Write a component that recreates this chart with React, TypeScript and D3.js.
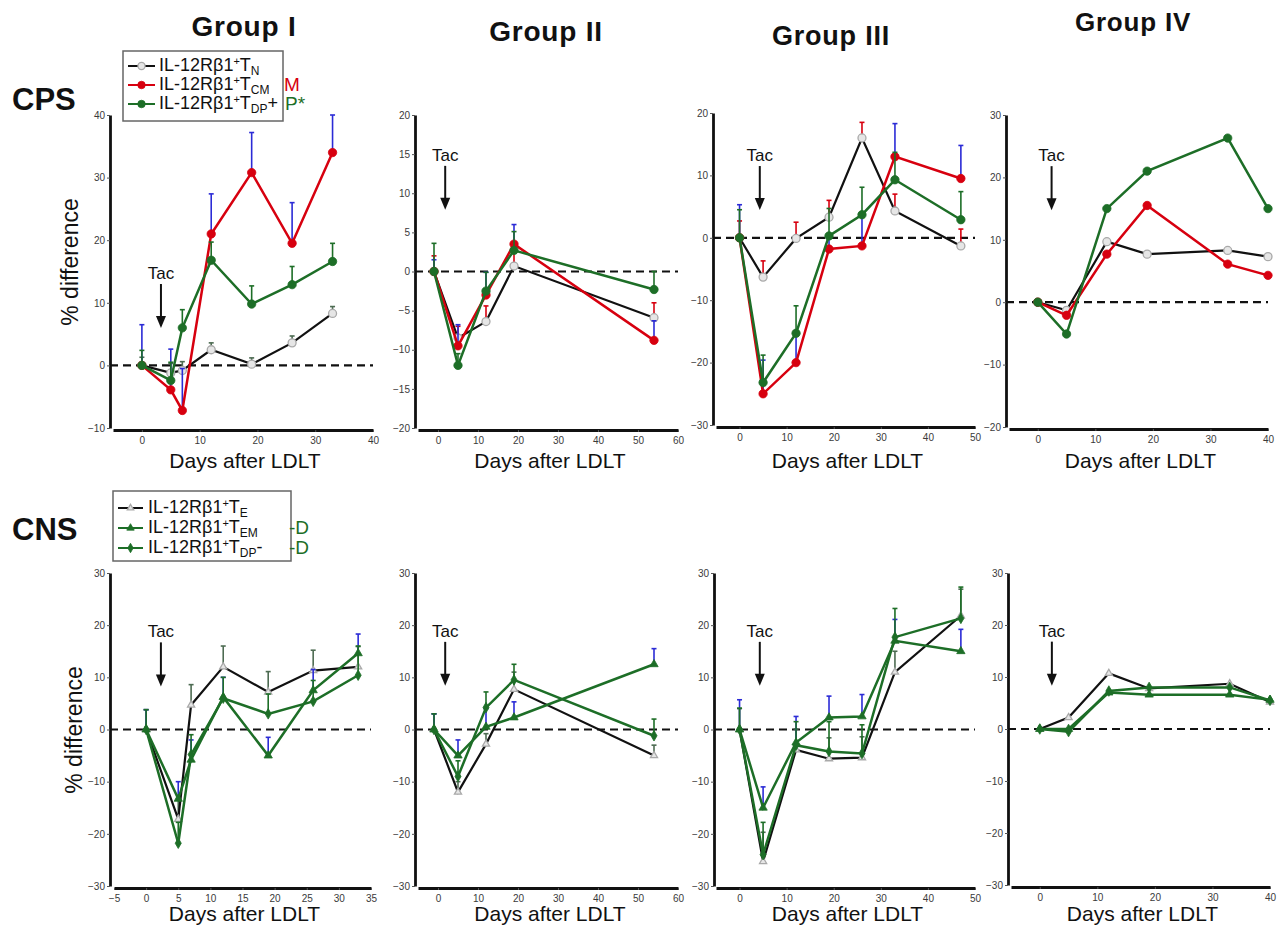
import { useEffect, useRef } from "react";
import * as d3 from "d3";

// ---- CPS, Group I ----
const cps1Days = [0, 5, 7, 12, 19, 26, 33];
const cps1TN = [0, -1.2, -0.8, 2.5, 0.2, 3.6, 8.3];
const cps1TNErr = [1.3, 1.5, 1.4, 1.1, 1.0, 1.1, 1.1];
const cps1TCM = [0, -3.9, -7.2, 21, 30.8, 19.5, 34];
const cps1TCMErr = [6.5, 6.5, 6.7, 6.4, 6.4, 6.5, 6];
const cps1TDP = [0, -2.4, 6, 16.8, 9.8, 12.9, 16.6];
const cps1TDPErr = [2.4, 2.9, 2.9, 2.9, 2.9, 2.9, 2.9];

// ---- CPS, Group II ----
const cps2Days = [-1, 5, 12, 19, 54];
const cps2TN = [0, -8.5, -6.4, 0.7, -5.9];
const cps2TNErr = [2.0, 1.5, 2.0, 2.0, 1.9];
const cps2TCM = [0, -9.5, -3, 3.5, -8.8];
const cps2TCMErr = [1.5, 2.7, 2.9, 2.5, 2.5];
const cps2TDP = [0, -12, -2.5, 2.7, -2.3];
const cps2TDPErr = [3.6, 1.5, 2.4, 2.4, 2.3];

// ---- CPS, Group III ----
const cps3Days = [0, 5, 12, 19, 26, 33, 47];
const cps3TN = [0, -6.3, -0.1, 3.3, 16, 4.3, -1.3];
const cps3TNErr = [2.7, 2.6, 2.6, 2.7, 2.5, 2.7, 2.7];
const cps3TCM = [0, -25, -20, -1.8, -1.3, 13, 9.5];
const cps3TCMErr = [5.3, 5.4, 5, 2.3, 5, 5.3, 5.3];
const cps3TDP = [0, -23.2, -15.3, 0.3, 3.7, 9.3, 2.9];
const cps3TDPErr = [4.5, 4.4, 4.4, 4.4, 4.4, 4.4, 4.5];

// ---- CPS, Group IV ----
const cps4Days = [0, 5, 12, 19, 33, 40];
const cps4TN = [0, -1.3, 9.7, 7.7, 8.3, 7.3];
const cps4TCM = [0, -2.1, 7.7, 15.5, 6.1, 4.3];
const cps4TDP = [0, -5.1, 15, 21, 26.3, 15];

// ---- CNS, Group I ----
const cns1Days = [0, 5, 7, 12, 19, 26, 33];
const cns1TE = [0, -17.2, 4.7, 12, 7.2, 11.3, 12];
const cns1TEErr = [3.8, 3.8, 3.9, 4, 3.9, 3.9, 3.9];
const cns1TEM = [0, -13.3, -5.8, 6.2, -5, 7.5, 14.6];
const cns1TEMErr = [3.8, 3.3, 3.8, 3.8, 3.5, 4, 3.7];
const cns1TDP = [0, -21.8, -4.8, 6, 3, 5.4, 10.4];
const cns1TDPErr = [3.8, 4, 3.8, 4, 3.8, 4, 5.6];

// ---- CNS, Group II ----
const cns2Days = [-1, 5, 12, 19, 54];
const cns2TE = [0, -12, -2.8, 7.7, -5];
const cns2TEErr = [3, 2, 2, 3.3, 2];
const cns2TEM = [0, -5, 0.5, 2.3, 12.5];
const cns2TEMErr = [3, 3, 3.5, 3, 3];
const cns2TDP = [0, -9, 4.2, 9.5, -1.2];
const cns2TDPErr = [3, 3, 3, 3, 3.2];

// ---- CNS, Group III ----
const cns3Days = [0, 5, 12, 19, 26, 33, 47];
const cns3TE = [0, -25.3, -3.9, -5.6, -5.4, 11, 21.8];
const cns3TEErr = [4, 5.6, 4, 4, 4, 4, 5.1];
const cns3TEM = [0, -15, -2.5, 2.3, 2.5, 17, 15];
const cns3TEMErr = [5.7, 4, 5, 4.1, 4.2, 4.1, 4.2];
const cns3TDP = [0, -24, -3, -4.2, -4.6, 17.7, 21.3];
const cns3TDPErr = [4.1, 6.2, 4.5, 5.7, 5.5, 5.5, 6];

// ---- CNS, Group IV ----
const cns4Days = [0, 5, 12, 19, 33, 40];
const cns4TE = [0, 2.2, 10.7, 7.8, 8.7, 5.2];
const cns4TEM = [0, 0, 7, 6.6, 6.6, 5.6];
const cns4TDP = [0, -0.5, 7.3, 8, 8, 5.5];

const groupTitles = ["Group I", "Group II", "Group III", "Group IV"];
const xTitle = "Days after LDLT";
const yTitle = "% difference";

const BLACK = "#111";
const RED = "#d7000f";
const GREEN = "#1d6e27";
const BLUE = "#2b2bd6";
const DKERR = "#4d6b52";
const FONT = "'Liberation Sans', Arial, Helvetica, sans-serif";

type Series = {
  values: number[];
  err?: number[];
  color: string;
  errColor?: string;
  marker: "open" | "dot" | "openTri" | "tri" | "diamond";
};

const topSeries = (tn, tnE, tnEC, tcm, tcmE, tdp, tdpE): Series[] => [
  { values: tn, err: tnE, color: BLACK, errColor: tnEC, marker: "open" },
  { values: tcm, err: tcmE, color: RED, errColor: BLUE, marker: "dot" },
  { values: tdp, err: tdpE, color: GREEN, errColor: GREEN, marker: "dot" },
];
const botSeries = (te, teE, tem, temE, tdp, tdpE): Series[] => [
  { values: te, err: teE, color: BLACK, errColor: DKERR, marker: "openTri" },
  { values: tem, err: temE, color: GREEN, errColor: BLUE, marker: "tri" },
  { values: tdp, err: tdpE, color: GREEN, errColor: GREEN, marker: "diamond" },
];

const panels = [
  { axisX: 110, x0: 113, x1: 373, yTop: 115, yBot: 428, xDomain: [-5, 40], xTicks: [0, 10, 20, 30, 40],
    yDomain: [-10, 40], yTicks: [-10, 0, 10, 20, 30, 40], days: cps1Days, tac: [3.3, 13],
    series: topSeries(cps1TN, cps1TNErr, DKERR, cps1TCM, cps1TCMErr, cps1TDP, cps1TDPErr) },
  { axisX: 415, x0: 418, x1: 678, yTop: 115, yBot: 428, xDomain: [-5, 60], xTicks: [0, 10, 20, 30, 40, 50, 60],
    yDomain: [-20, 20], yTicks: [-20, -15, -10, -5, 0, 5, 10, 15, 20], days: cps2Days, tac: [1.8, 13.5],
    series: topSeries(cps2TN, cps2TNErr, RED, cps2TCM, cps2TCMErr, cps2TDP, cps2TDPErr) },
  { axisX: 713, x0: 716, x1: 975, yTop: 113, yBot: 425, xDomain: [-5, 50], xTicks: [0, 10, 20, 30, 40, 50],
    yDomain: [-30, 20], yTicks: [-30, -20, -10, 0, 10, 20], days: cps3Days, tac: [4.3, 11.5],
    series: topSeries(cps3TN, cps3TNErr, RED, cps3TCM, cps3TCMErr, cps3TDP, cps3TDPErr) },
  { axisX: 1006, x0: 1009, x1: 1268, yTop: 115, yBot: 427, xDomain: [-5, 40], xTicks: [0, 10, 20, 30, 40],
    yDomain: [-20, 30], yTicks: [-20, -10, 0, 10, 20, 30], days: cps4Days, tac: [2.4, 21.8],
    series: topSeries(cps4TN, null, null, cps4TCM, null, cps4TDP, null) },
  { axisX: 110, x0: 114, x1: 371, yTop: 573, yBot: 886, xDomain: [-5, 35], xTicks: [-5, 0, 5, 10, 15, 20, 25, 30, 35],
    yDomain: [-30, 30], yTicks: [-30, -20, -10, 0, 10, 20, 30], days: cns1Days, tac: [2.3, 16.7],
    series: botSeries(cns1TE, cns1TEErr, cns1TEM, cns1TEMErr, cns1TDP, cns1TDPErr) },
  { axisX: 415, x0: 418, x1: 678, yTop: 573, yBot: 886, xDomain: [-5, 60], xTicks: [0, 10, 20, 30, 40, 50, 60],
    yDomain: [-30, 30], yTicks: [-30, -20, -10, 0, 10, 20, 30], days: cns2Days, tac: [1.8, 16.8],
    series: botSeries(cns2TE, cns2TEErr, cns2TEM, cns2TEMErr, cns2TDP, cns2TDPErr) },
  { axisX: 714, x0: 716, x1: 975, yTop: 573, yBot: 886, xDomain: [-5, 50], xTicks: [0, 10, 20, 30, 40, 50],
    yDomain: [-30, 30], yTicks: [-30, -20, -10, 0, 10, 20, 30], days: cns3Days, tac: [4.3, 16.8],
    series: botSeries(cns3TE, cns3TEErr, cns3TEM, cns3TEMErr, cns3TDP, cns3TDPErr) },
  { axisX: 1008, x0: 1011, x1: 1270, yTop: 573, yBot: 885, xDomain: [-5, 40], xTicks: [0, 10, 20, 30, 40],
    yDomain: [-30, 30], yTicks: [-30, -20, -10, 0, 10, 20, 30], days: cns4Days, tac: [2.1, 16.8],
    series: botSeries(cns4TE, null, cns4TEM, null, cns4TDP, null) },
];

const symbolFor = (m: string) =>
  m === "open" || m === "dot" ? d3.symbolCircle : m === "diamond" ? d3.symbolDiamond : d3.symbolTriangle;

function drawMarker(g, m: string, color: string, cx: number, cy: number, big = false) {
  const size = m === "open" ? 50 : m === "dot" ? 55 : m === "diamond" ? 32 : m === "openTri" ? 22 : 30;
  const p = g.append("path")
    .attr("d", d3.symbol(symbolFor(m), big ? size * 0.8 : size)())
    .attr("transform", `translate(${cx},${cy})`);
  if (m === "open" || m === "openTri") {
    p.attr("fill", "#e6e6e6").attr("stroke", "#a9a9a9").attr("stroke-width", 1.3);
  } else {
    p.attr("fill", color).attr("stroke", color).attr("stroke-width", 0.8);
  }
}

const App = () => {
  const ref = useRef<SVGSVGElement>(null);

  useEffect(() => {
    document.body.style.margin = "0";
    const svg = d3.select(ref.current);
    svg.selectAll("*").remove();

    panels.forEach((p, pi) => {
      const x = d3.scaleLinear().domain(p.xDomain).range([p.x0, p.x1]);
      const y = d3.scaleLinear().domain(p.yDomain).range([p.yBot, p.yTop]);
      const g = svg.append("g");

      // dashed zero line
      g.append("line")
        .attr("x1", p.axisX).attr("x2", p.x1)
        .attr("y1", y(0)).attr("y2", y(0))
        .attr("stroke", BLACK).attr("stroke-width", 2.2).attr("stroke-dasharray", "8,5");

      // axes
      const ya = g.append("g").attr("transform", `translate(${p.axisX},0)`)
        .call(d3.axisLeft(y).tickValues(p.yTicks).tickSize(3).tickSizeOuter(0).tickPadding(2));
      const xa = g.append("g").attr("transform", `translate(0,${p.yBot + 2})`)
        .call(d3.axisBottom(x).tickValues(p.xTicks).tickSize(2).tickSizeOuter(0).tickPadding(5));
      [ya, xa].forEach((a) => {
        a.select(".domain").attr("stroke", BLACK).attr("stroke-width", 2.8);
        a.selectAll(".tick line").attr("stroke", "#555").attr("stroke-width", 1);
        a.selectAll(".tick text").attr("fill", "#3a3a3a").attr("font-size", 10).attr("font-family", FONT);
      });

      // series
      p.series.forEach((s) => {
        if (s.err) {
          s.err.forEach((e, i) => {
            if (e == null) return;
            const cx = x(p.days[i]);
            const top = Math.max(y(s.values[i] + e), p.yTop);
            g.append("line").attr("x1", cx).attr("x2", cx)
              .attr("y1", y(s.values[i])).attr("y2", top)
              .attr("stroke", s.errColor).attr("stroke-width", 1.6);
            g.append("line").attr("x1", cx - 2.5).attr("x2", cx + 2.5)
              .attr("y1", top).attr("y2", top)
              .attr("stroke", s.errColor).attr("stroke-width", 1.6);
          });
        }
        const line = d3.line<number>().x((d, i) => x(p.days[i])).y((d) => y(d));
        g.append("path").datum(s.values).attr("d", line)
          .attr("fill", "none").attr("stroke", s.color)
          .attr("stroke-width", s.color === BLACK ? 2.2 : 2.5)
          .attr("stroke-linejoin", "miter");
        s.values.forEach((v, i) => drawMarker(g, s.marker, s.color, x(p.days[i]), y(v)));
      });

      // Tac arrow
      const ax = x(p.tac[0]);
      const ay = y(p.tac[1]);
      g.append("text").attr("x", ax).attr("y", ay - 5).attr("text-anchor", "middle")
        .attr("font-size", 17).attr("font-family", FONT).attr("fill", BLACK).text("Tac");
      g.append("line").attr("x1", ax).attr("x2", ax).attr("y1", ay).attr("y2", ay + 34)
        .attr("stroke", BLACK).attr("stroke-width", 2);
      g.append("path")
        .attr("d", `M${ax - 5},${ay + 32} L${ax + 5},${ay + 32} L${ax},${ay + 44} Z`)
        .attr("fill", BLACK);

      // x title
      g.append("text").attr("x", (p.x0 + p.x1) / 2 + 2).attr("y", pi < 4 ? 468 : 921)
        .attr("text-anchor", "middle").attr("font-size", 21).attr("font-family", FONT)
        .attr("fill", BLACK).text(xTitle);
    });

    // y titles
    [[70, 262], [74, 730]].forEach(([cx, cy]) => {
      svg.append("text").attr("transform", `translate(${cx + 8},${cy}) rotate(-90)`)
        .attr("text-anchor", "middle").attr("font-size", 23).attr("font-family", FONT)
        .attr("fill", BLACK).text(yTitle);
    });

    // group titles
    const titlePos = [[244, 36, 28], [546, 41, 28], [831, 45, 27], [1133, 31, 26]];
    groupTitles.forEach((t, i) => {
      const [cx, by, fs] = titlePos[i];
      svg.append("text").attr("x", cx).attr("y", by).attr("text-anchor", "middle")
        .attr("font-size", fs).attr("font-weight", "bold").attr("font-family", FONT)
        .attr("letter-spacing", 0.8).attr("fill", BLACK).text(t);
    });

    // row labels
    [["CPS", 110], ["CNS", 540]].forEach(([t, by]) => {
      svg.append("text").attr("x", 12).attr("y", by).attr("font-size", 31)
        .attr("font-weight", "bold").attr("font-family", FONT).attr("fill", BLACK).text(t);
    });

    // legends
    const legend = (bx, by, bw, bh, rows, lx0, lx1, tx) => {
      const lg = svg.append("g");
      lg.append("rect").attr("x", bx).attr("y", by).attr("width", bw).attr("height", bh)
        .attr("fill", "white").attr("stroke", "#666").attr("stroke-width", 1.5);
      rows.forEach((r) => {
        lg.append("line").attr("x1", lx0).attr("x2", lx1).attr("y1", r.y - 5).attr("y2", r.y - 5)
          .attr("stroke", r.color).attr("stroke-width", 2);
        drawMarker(lg, r.marker, r.color, (lx0 + lx1) / 2, r.y - 5, true);
        const t = lg.append("text").attr("x", tx).attr("y", r.y).attr("font-size", 18)
          .attr("font-family", FONT).attr("fill", BLACK);
        t.append("tspan").text("IL-12Rβ1");
        t.append("tspan").attr("font-size", 11).attr("dy", -6).text("+");
        t.append("tspan").attr("dy", 6).text("T");
        t.append("tspan").attr("font-size", 12).attr("dy", 4).text(r.sub);
        if (r.tail) t.append("tspan").attr("dy", -4).text(r.tail);
        if (r.mark) {
          lg.append("text").attr("x", r.markX).attr("y", r.y + 1).attr("font-size", 19)
            .attr("font-family", FONT).attr("fill", r.markColor).text(r.mark);
        }
      });
    };
    legend(123, 51, 160, 70, [
      { y: 71, color: BLACK, marker: "open", sub: "N" },
      { y: 90, color: RED, marker: "dot", sub: "CM", mark: "M", markColor: RED, markX: 284 },
      { y: 109, color: GREEN, marker: "dot", sub: "DP", tail: "+", mark: "P*", markColor: GREEN, markX: 285 },
    ], 128, 155, 159);
    legend(113, 491, 178, 70, [
      { y: 513, color: BLACK, marker: "openTri", sub: "E" },
      { y: 533, color: GREEN, marker: "tri", sub: "EM", mark: "-D", markColor: GREEN, markX: 289 },
      { y: 553, color: GREEN, marker: "diamond", sub: "DP", tail: "-", mark: "-D", markColor: GREEN, markX: 289 },
    ], 118, 143, 148);
  }, []);

  return (
    <div style={{ position: "absolute", left: 0, top: 0 }}>
      <svg ref={ref} width={1280} height={928} style={{ display: "block", background: "white" }} />
    </div>
  );
};

export default App;
